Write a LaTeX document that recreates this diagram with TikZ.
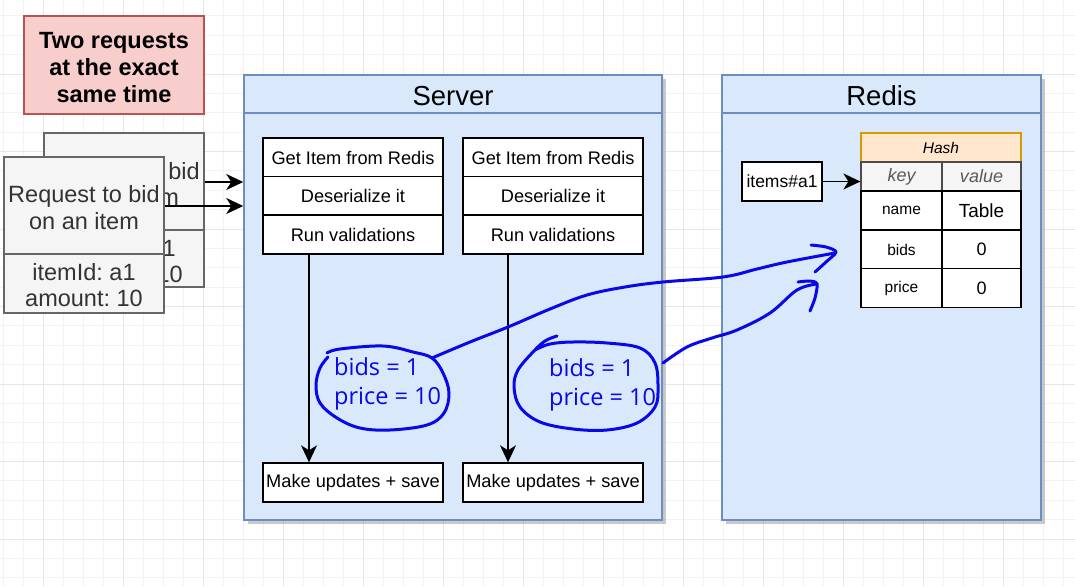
\documentclass[tikz,border=0pt]{standalone}
\usepackage{fontspec}
\setmainfont{Liberation Sans}
\newfontfamily\handfont{Open Sans}
\usetikzlibrary{arrows.meta}
\frenchspacing
\definecolor{gridminor}{HTML}{F3F3F3}
\definecolor{gridmajor}{HTML}{E6E6E6}
\definecolor{redfill}{HTML}{F8CECC}
\definecolor{redline}{HTML}{B85450}
\definecolor{reqfill}{HTML}{F5F5F5}
\definecolor{reqline}{HTML}{666666}
\definecolor{contfill}{HTML}{DAE8FC}
\definecolor{contline}{HTML}{6C8EBF}
\definecolor{hashfill}{HTML}{FFE6CC}
\definecolor{hashline}{HTML}{D79B00}
\definecolor{inkblue}{HTML}{0808E8}
\tikzset{
  redbox/.style={draw=redline, fill=redfill, line width=1.3pt, align=center, inner sep=0pt},
  reqbox/.style={draw=reqline, fill=reqfill, line width=1.5pt, inner sep=0pt},
  reqtext/.style={align=center, inner sep=0pt, font=\fontsize{23.5}{26.5}\selectfont, text=black!80},
  container/.style={draw=contline, fill=contfill, line width=1.5pt, inner sep=0pt},
  shadowbox/.style={fill=black!35, opacity=0.6},
  proc/.style={draw=black, fill=white, line width=1.4pt, minimum width=180pt, minimum height=39pt, inner sep=0pt, font=\fontsize{18.2}{21}\selectfont},
  cell/.style={draw=black, fill=white, line width=1.4pt, inner sep=0pt},
  arr/.style={draw=black, line width=1.6pt, -{Stealth[length=17pt,width=16pt,inset=5pt]}},
  ink/.style={draw=inkblue, line width=3pt, line cap=round, line join=round},
  inktext/.style={text=inkblue, align=left, inner sep=0pt, font=\handfont\fontsize{23.5}{29}\selectfont},
}
\begin{document}
\begin{tikzpicture}[x=1pt,y=-1pt]
\useasboundingbox (0,0) rectangle (1075,586);
\fill[white] (0,0) rectangle (1075,586);
% grid
\foreach \i in {0,...,54} \draw[gridminor, line width=0.8pt] ({3+20*\i},0) -- ({3+20*\i},586);
\foreach \i in {0,...,31} \draw[gridminor, line width=0.8pt] (0,{-3.5+19.375*\i}) -- (1075,{-3.5+19.375*\i});
\foreach \i in {0,...,13} \draw[gridmajor, line width=1pt] ({43+80*\i},0) -- ({43+80*\i},586);
\foreach \i in {0,...,7} \draw[gridmajor, line width=1pt] (0,{-3.5+77.5*\i}) -- (1075,{-3.5+77.5*\i});

% title
\node[redbox, minimum width=180pt, minimum height=98pt] (title) at (114,65) {};
\node[align=center, inner sep=0pt, font=\bfseries\fontsize{23.5}{27}\selectfont] (titleT) at (114,68) {Two requests\\at the exact\\same time};

% requests (back)
\node[reqbox, minimum width=160pt, minimum height=154pt] (reqB) at (124,210) {};
\draw[reqline, line width=1.5pt] (44,230) -- (204,230);
\node[reqtext] (reqBt) at (124,184) {Request to bid\\on an item};
\node[reqtext] (reqBd) at (124,261) {itemId: a1\\amount: 10};
% requests (front)
\node[reqbox, minimum width=160pt, minimum height=156pt] (reqF) at (84,235) {};
\draw[reqline, line width=1.5pt] (4,254) -- (164,254);
\node[reqtext] (reqFt) at (84,207.5) {Request to bid\\on an item};
\node[reqtext] (reqFd) at (84,285) {itemId: a1\\amount: 10};

% containers
\fill[shadowbox] (248,79) rectangle (666,524);
\node[container, minimum width=418pt, minimum height=445pt] (server) at (453,297.5) {};
\draw[contline, line width=1.5pt] (244,113) -- (662,113);
\node[inner sep=0pt, font=\fontsize{27.5}{30}\selectfont] (serverT) at (453,96) {Server};

\fill[shadowbox] (726,79) rectangle (1045,524);
\node[container, minimum width=319pt, minimum height=445pt] (redis) at (881.5,297.5) {};
\draw[contline, line width=1.5pt] (722,113) -- (1041,113);
\node[inner sep=0pt, font=\fontsize{27.5}{30}\selectfont] (redisT) at (881.5,96) {Redis};

% request arrows
\draw[arr] (reqB.east |- 0,182) -- (server.west |- 0,182);
\draw[arr] (reqF.east |- 0,206) -- (server.west |- 0,206);

% process stacks
\node[proc] (g1) at (353,157.5) {Get Item from Redis};
\node[proc] (d1) at (353,196) {Deserialize it};
\node[proc] (r1) at (353,234.5) {Run validations};
\node[proc] (g2) at (553,157.5) {Get Item from Redis};
\node[proc] (d2) at (553,196) {Deserialize it};
\node[proc] (r2) at (553,234.5) {Run validations};
\node[proc] (m1) at (353,482.5) {Make updates + save};
\node[proc] (m2) at (553,482.5) {Make updates + save};
\draw[arr] ([xshift=-44pt]r1.south) -- ([xshift=-44pt]m1.north);
\draw[arr] ([xshift=-45pt]r2.south) -- ([xshift=-45pt]m2.north);

% hash table
\node[draw=hashline, fill=hashfill, line width=1.3pt, minimum width=160pt, minimum height=29pt, inner sep=0pt, font=\itshape\fontsize{15.5}{18}\selectfont] (hash) at (941,147.5) {Hash};
\node[draw=black!70, fill=reqfill, line width=1.2pt, minimum width=81pt, minimum height=29pt, inner sep=0pt, text=black!65, font=\itshape\fontsize{18}{20}\selectfont] (hkey) at (901.5,176.5) {key};
\node[draw=black!70, fill=reqfill, line width=1.2pt, minimum width=79pt, minimum height=29pt, inner sep=0pt, text=black!65, font=\itshape\fontsize{18}{20}\selectfont] (hval) at (981.5,176.5) {value};
\node[cell, minimum width=81pt, minimum height=39pt, font=\fontsize{15.5}{18}\selectfont] (kname) at (901.5,210.5) {name};
\node[cell, minimum width=79pt, minimum height=39pt, font=\fontsize{19}{21}\selectfont] (vname) at (981.5,210.5) {Table};
\node[cell, minimum width=81pt, minimum height=39pt, font=\fontsize{15.5}{18}\selectfont] (kbids) at (901.5,249.5) {bids};
\node[cell, minimum width=79pt, minimum height=39pt, font=\fontsize{18}{21}\selectfont] (vbids) at (981.5,249.5) {0};
\node[cell, minimum width=81pt, minimum height=39pt, font=\fontsize{15.5}{18}\selectfont] (kprice) at (901.5,288) {price};
\node[cell, minimum width=79pt, minimum height=39pt, font=\fontsize{18}{21}\selectfont] (vprice) at (981.5,288) {0};

\node[cell, minimum width=80pt, minimum height=39pt, font=\fontsize{17.5}{20}\selectfont] (items) at (782,181.5) {items\#a1};
\draw[arr] (items.east) -- (hkey.west |- items.east);

% handwritten notes
\node[inktext, anchor=west] (noteL) at (334,384) {bids = 1\\price = 10};
\node[inktext, anchor=west] (noteR) at (549,385) {bids = 1\\price = 10};

\draw[ink] plot[smooth, tension=0.6] coordinates {(327,353) (340,349) (383,346) (413,352) (432,358) (443,373) (449,393) (444,413) (427,425) (390,430) (360,428) (337,418) (320,403) (316,385) (320,368) (328,357)};
\draw[ink] plot[smooth, tension=0.6] coordinates {(432,358) (470,342) (508,327) (550,309) (587,295) (625,287) (663,282) (723,277) (757,269) (787,262) (835,253)};
\draw[ink] plot[smooth, tension=0.5] coordinates {(811,245) (826,247) (836,252) (826,262) (815,272)};

\draw[ink] plot[smooth, tension=0.6] coordinates {(557,336) (545,341) (533,352) (518,370) (514,387) (520,407) (540,422) (573,429) (607,430) (637,423) (655,407) (658,387) (655,363) (640,348) (607,343) (573,342) (550,344) (535,350)};
\draw[ink] plot[smooth, tension=0.6] coordinates {(663,363) (687,347) (712,338) (737,330) (770,313) (797,290) (817,284)};
\draw[ink] plot[smooth, tension=0.5] coordinates {(798,282) (810,281) (817,284) (815,298) (810,311)};
\end{tikzpicture}
\end{document}
